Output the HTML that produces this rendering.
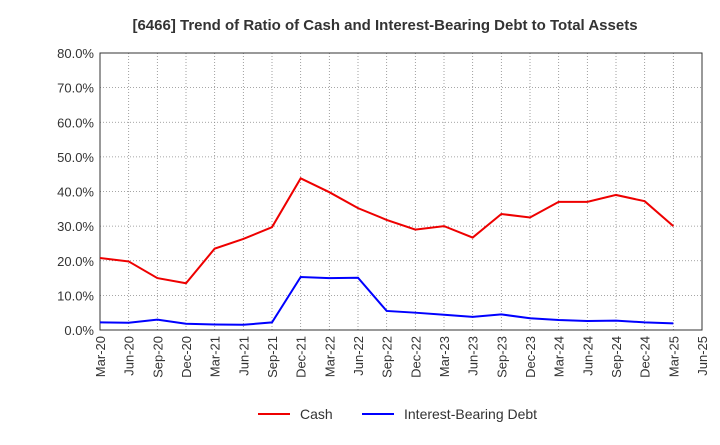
<!DOCTYPE html>
<html><head><meta charset="utf-8"><style>
body{margin:0;background:#fff;font-family:"Liberation Sans",sans-serif;}
</style></head><body>
<svg width="720" height="440" xmlns="http://www.w3.org/2000/svg">
<text x="385" y="30" text-anchor="middle" font-size="15" font-weight="bold" fill="#333">[6466]  Trend of Ratio of Cash and Interest-Bearing Debt to Total Assets</text>
<g id="grid"></g><g id="axes"></g><g id="series"></g>
<g>
<line x1="258" y1="414" x2="290" y2="414" stroke="#e00" stroke-width="2"/>
<text x="300" y="419" font-size="14" fill="#333">Cash</text>
<line x1="362" y1="414" x2="394" y2="414" stroke="#00f" stroke-width="2"/>
<text x="404" y="419" font-size="14" fill="#333">Interest-Bearing Debt</text>
</g>
</svg>
<script>
const categories=["Mar-20","Jun-20","Sep-20","Dec-20","Mar-21","Jun-21","Sep-21","Dec-21","Mar-22","Jun-22","Sep-22","Dec-22","Mar-23","Jun-23","Sep-23","Dec-23","Mar-24","Jun-24","Sep-24","Dec-24","Mar-25","Jun-25"];
const cash=[20.8,19.8,15.0,13.5,23.5,26.3,29.7,43.8,39.8,35.2,31.8,29.0,30.0,26.7,33.5,32.5,37.0,37.0,39.0,37.2,30.0];
const debt=[2.2,2.1,3.0,1.8,1.6,1.5,2.2,15.3,15.0,15.1,5.5,5.0,4.4,3.8,4.5,3.4,2.9,2.6,2.7,2.2,1.9];
const yTicks=[0,10,20,30,40,50,60,70,80];
const NS="http://www.w3.org/2000/svg";
const L=100,R=702,T=53,B=330;
const xs=i=>L+i*(R-L)/(categories.length-1);
const ys=v=>B-v*(B-T)/80;
function mk(tag,at,parent){const e=document.createElementNS(NS,tag);for(const k in at)e.setAttribute(k,at[k]);document.getElementById(parent).appendChild(e);return e;}
yTicks.forEach(v=>{
 const l=mk('line',{x1:L,x2:R,y1:ys(v),y2:ys(v),stroke:'#888','stroke-dasharray':'1,2','stroke-width':0.8},'grid');
 
 
 const t=mk('text',{x:L-6,y:ys(v)+5,'text-anchor':'end','font-size':13,fill:'#333'},'axes');
 
 
 t.textContent=v.toFixed(1)+'%';
});
categories.forEach((c,i)=>{
 const l=mk('line',{x1:xs(i),x2:xs(i),y1:T,y2:B,stroke:'#888','stroke-dasharray':'1,2','stroke-width':0.8},'grid');
 
 
 const t=mk('text',{x:xs(i)+5,y:B+6,'text-anchor':'end','font-size':13,fill:'#333',transform:`rotate(-90 ${xs(i)+5} ${B+6})`},'axes');
 
 
 t.textContent=c;
});
const fr=mk('rect',{x:L,y:T,width:R-L,height:B-T,fill:'none',stroke:'#333','stroke-width':1},'axes');


function line(d,col,name){
 const p=mk('polyline',{points:d.map((v,i)=>xs(i)+','+ys(v)).join(' '),fill:'none',stroke:col,'stroke-width':2},'series');
 
 
}
line(cash,'#e00','cash-line');
line(debt,'#00f','debt-line');
</script>
</body></html>
